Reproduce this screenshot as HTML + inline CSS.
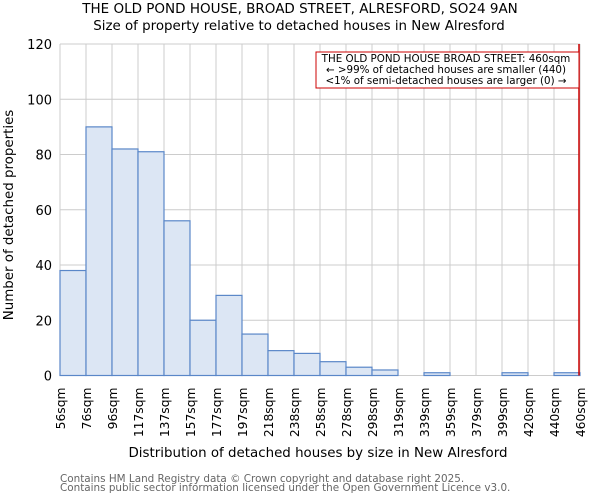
<!DOCTYPE html>
<html><head><meta charset="utf-8"><style>
body{margin:0;background:#fff;font-family:"DejaVu Sans","Liberation Sans",sans-serif;}
svg text{font-family:"DejaVu Sans","Liberation Sans",sans-serif;}
</style></head><body>
<svg id="c" width="600" height="500" xmlns="http://www.w3.org/2000/svg">
<text x="300" y="13" text-anchor="middle" font-size="13.5">THE OLD POND HOUSE, BROAD STREET, ALRESFORD, SO24 9AN</text>
<text x="299" y="30" text-anchor="middle" font-size="13.4">Size of property relative to detached houses in New Alresford</text>
<g id="grid"></g><g id="bars"></g><g id="axes"></g>
<text x="318" y="457" text-anchor="middle" font-size="13.4">Distribution of detached houses by size in New Alresford</text>
<text transform="translate(13,215) rotate(-90)" text-anchor="middle" font-size="13.4">Number of detached properties</text>
<text x="60" y="482" font-size="10.4" fill="#666">Contains HM Land Registry data © Crown copyright and database right 2025.</text>
<text x="60" y="491" font-size="10.4" fill="#666">Contains public sector information licensed under the Open Government Licence v3.0.</text>
<g>
<rect x="316" y="52" width="263" height="36" fill="#fff" stroke="#c00" stroke-width="1"/>
<text x="446" y="62" text-anchor="middle" font-size="10.3">THE OLD POND HOUSE BROAD STREET: 460sqm</text>
<text x="446" y="73" text-anchor="middle" font-size="10.3">← &gt;99% of detached houses are smaller (440)</text>
<text x="446" y="84" text-anchor="middle" font-size="10.3">&lt;1% of semi-detached houses are larger (0) →</text>
</g>
</svg>
<script>
const labels=["56sqm","76sqm","96sqm","117sqm","137sqm","157sqm","177sqm","197sqm","218sqm","238sqm","258sqm","278sqm","298sqm","319sqm","339sqm","359sqm","379sqm","399sqm","420sqm","440sqm","460sqm"];
const counts=[38,90,82,81,56,20,29,15,9,8,5,3,2,0,1,0,0,1,0,1];
const yTicks=[0,20,40,60,80,100,120];
const marker=20;
const X0=60,X1=580,Y0=375.5,Y1=44,YMAX=120;
const nb=counts.length,bw=(X1-X0)/nb;
const xs=i=>X0+i*bw, ys=v=>Y0-(Y0-Y1)*v/YMAX;
const NS="http://www.w3.org/2000/svg";
function mk(p,t,a){const e=document.createElementNS(NS,t);for(const k in a)e.setAttribute(k,a[k]);p.appendChild(e);return e;}
const g=document.getElementById('grid'),b=document.getElementById('bars'),ax=document.getElementById('axes');
yTicks.forEach(v=>{
 const l=mk(g,'line',{x1:X0,x2:X1,y1:ys(v),y2:ys(v),stroke:'#ccc'});
 
 
 const t=mk(ax,'text',{x:X0-8,y:ys(v)+5,'text-anchor':'end','font-size':13});
 t.textContent=v;
 
 
});
labels.forEach((s,i)=>{
 const l=mk(g,'line',{x1:xs(i),x2:xs(i),y1:Y1,y2:Y0,stroke:'#ccc'});
 
 
 const t=mk(ax,'text',{transform:`translate(${xs(i)+5},${Y0+12}) rotate(-90)`,'text-anchor':'end','font-size':12.3});
 t.textContent=s;
 
 
});
counts.forEach((v,i)=>{
 if(v<=0)return;
 const r=mk(b,'rect',{x:xs(i),y:ys(v),width:bw,height:Y0-ys(v),fill:'#dce6f4',stroke:'#5a87c8','stroke-width':1.2});
 
 
});
const m=mk(ax,'line',{x1:xs(marker)-1,x2:xs(marker)-1,y1:Y1,y2:Y0,stroke:'#c00','stroke-width':1.5});


</script>
</body></html>
